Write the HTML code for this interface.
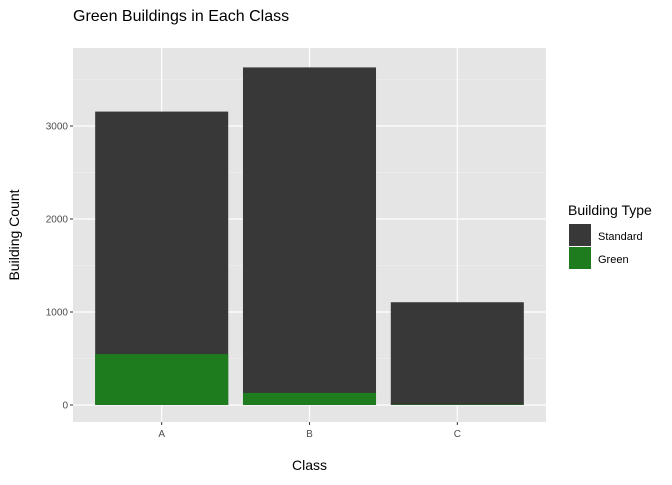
<!DOCTYPE html>
<html><head><meta charset="utf-8"><style>
body{margin:0;background:#fff;font-family:"Liberation Sans",sans-serif}
</style></head><body>
<svg width="672" height="480" xmlns="http://www.w3.org/2000/svg" id="chart">
<text x="73" y="21" font-size="16" fill="#000">Green Buildings in Each Class</text>
<rect x="73" y="48" width="473" height="374" fill="#e5e5e5"/>
<g id="grid"></g>
<g id="bars"></g>
<g id="axes"></g>
<text x="309.5" y="470" font-size="14" text-anchor="middle">Class</text>
<text transform="translate(19,235) rotate(-90)" font-size="14" text-anchor="middle">Building Count</text>
<g>
<text x="568" y="215" font-size="14">Building Type</text>
<rect x="569" y="224" width="22" height="22" fill="#383838"/>
<text x="598" y="240" font-size="11">Standard</text>
<rect x="569" y="247" width="22" height="22" fill="#1e7b1e"/>
<text x="598" y="263" font-size="11">Green</text>
</g>
</svg>
<script>
const categories = ["A","B","C"];
const standardTotal = [3155, 3630, 1105];
const greenCount = [548, 130, 5];
const yTicks = [0,1000,2000,3000];
const NS="http://www.w3.org/2000/svg";
const x0=73,x1=546,y0=405,pxPer=0.093;
const unit=(x1-x0)/3.2;
function xs(i){return x0+unit*(0.6+i);}
function ys(v){return y0-v*pxPer;}
function mk(t,a,p){const e=document.createElementNS(NS,t);for(const k in a)e.setAttribute(k,a[k]);p.appendChild(e);return e;}
const grid=document.getElementById('grid'),bars=document.getElementById('bars'),axes=document.getElementById('axes');
yTicks.forEach((v,i)=>{
  if(i<yTicks.length){const m=ys(v+500);if(m>48){const l=mk('line',{x1:x0,x2:x1,y1:m,y2:m,stroke:'#f2f2f2','stroke-width':0.6},grid);}}
  const g=mk('line',{x1:x0,x2:x1,y1:ys(v),y2:ys(v),stroke:'#fff','stroke-width':1.2},grid);
  
  
  const tk=mk('line',{x1:x0-3,x2:x0,y1:ys(v),y2:ys(v),stroke:'#333','stroke-width':1},axes);
  
  
  const t=mk('text',{x:x0-5,y:ys(v)+3.5,'font-size':10,'text-anchor':'end',fill:'#4d4d4d'},axes);
  t.textContent=v;
  
  
});
categories.forEach((c,i)=>{
  const cx=xs(i),w=unit*0.9;
  const g=mk('line',{x1:cx,x2:cx,y1:48,y2:422,stroke:'#fff','stroke-width':1.2},grid);
  
  
  const s=mk('rect',{x:cx-w/2,y:ys(standardTotal[i]),width:w,height:ys(0)-ys(standardTotal[i]),fill:'#383838'},bars);
  
  
  const gr=mk('rect',{x:cx-w/2,y:ys(greenCount[i]),width:w,height:ys(0)-ys(greenCount[i]),fill:'#1e7b1e'},bars);
  
  
  const tk=mk('line',{x1:cx,x2:cx,y1:422,y2:425,stroke:'#333','stroke-width':1},axes);
  
  
  const t=mk('text',{x:cx,y:437,'font-size':10,'text-anchor':'middle',fill:'#4d4d4d'},axes);
  t.textContent=c;
  
  
});
</script>
</body></html>
